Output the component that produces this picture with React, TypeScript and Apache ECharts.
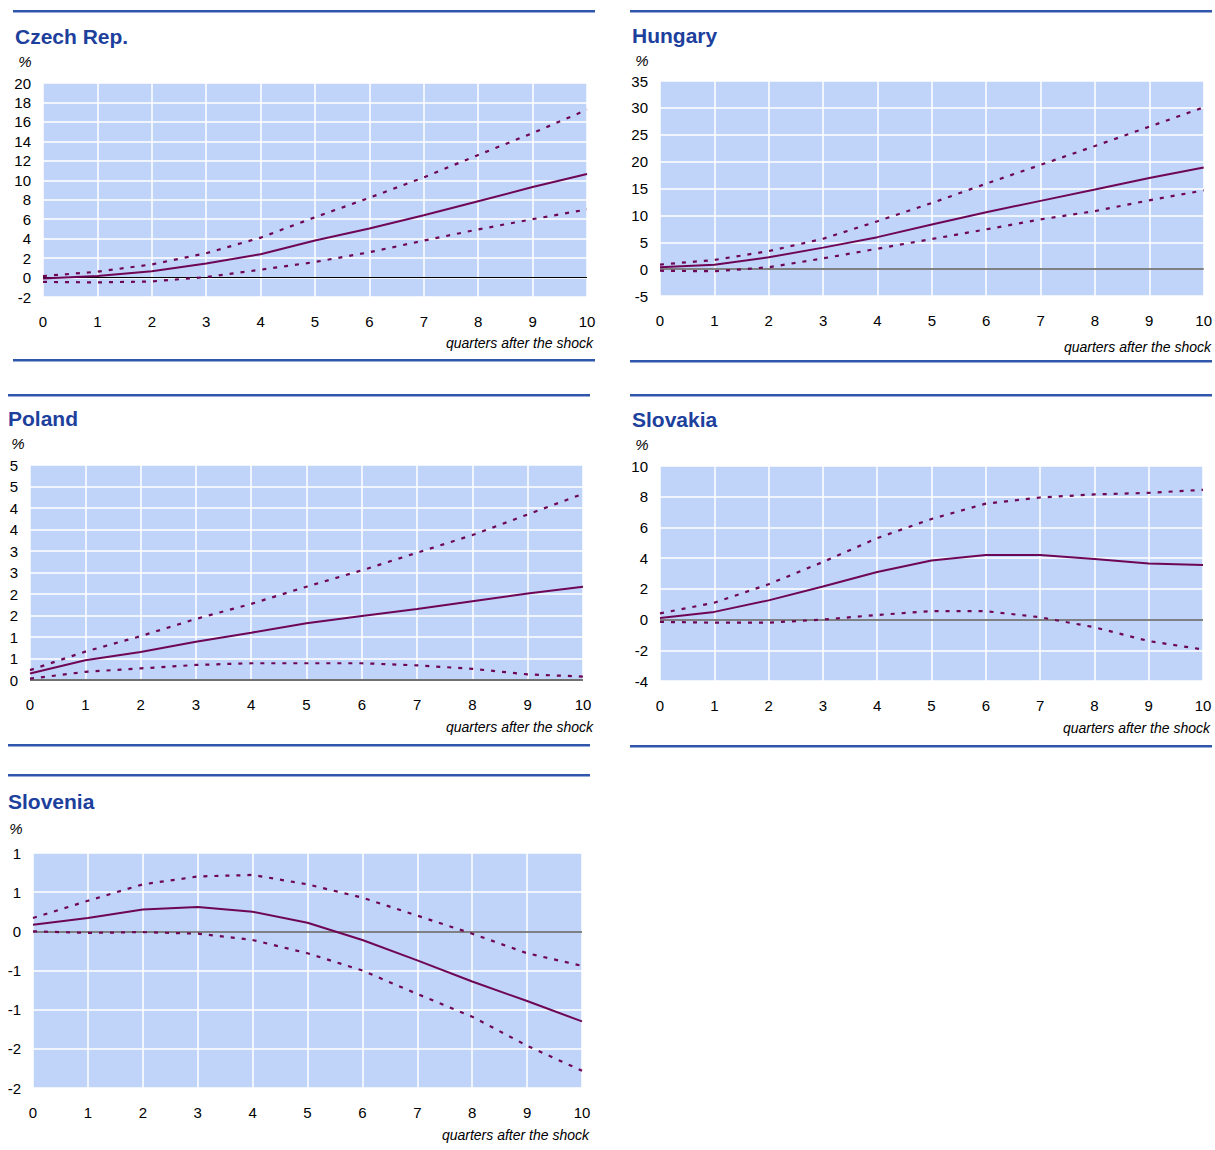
import React, { useEffect, useRef } from "react";
import * as echarts from "echarts";

const quarters = ["0", "1", "2", "3", "4", "5", "6", "7", "8", "9", "10"];

const czechCentral = [-0.1, 0.15, 0.65, 1.45, 2.4, 3.8, 5.05, 6.4, 7.85, 9.3, 10.65];
const czechUpper = [0.15, 0.6, 1.35, 2.5, 4.1, 6.2, 8.2, 10.3, 12.6, 14.85, 17.25];
const czechLower = [-0.45, -0.5, -0.4, 0.05, 0.8, 1.6, 2.6, 3.8, 4.95, 6.0, 7.0];

const hungaryCentral = [0.35, 0.8, 2.2, 4.0, 5.95, 8.3, 10.6, 12.7, 14.8, 16.95, 18.9];
const hungaryUpper = [0.85, 1.7, 3.35, 5.65, 8.9, 12.3, 15.9, 19.4, 22.9, 26.5, 30.1];
const hungaryLower = [-0.3, -0.4, 0.35, 2.0, 3.8, 5.6, 7.4, 9.25, 10.8, 12.8, 14.65];

const polandCentral = [0.15, 0.46, 0.65, 0.89, 1.1, 1.32, 1.49, 1.65, 1.83, 2.01, 2.17];
const polandUpper = [0.23, 0.66, 1.02, 1.42, 1.77, 2.17, 2.55, 2.96, 3.37, 3.85, 4.33];
const polandLower = [0.03, 0.19, 0.27, 0.35, 0.39, 0.39, 0.39, 0.34, 0.26, 0.13, 0.08];

const slovakiaCentral = [0.1, 0.5, 1.25, 2.15, 3.1, 3.85, 4.2, 4.2, 3.95, 3.65, 3.55];
const slovakiaUpper = [0.4, 1.1, 2.3, 3.75, 5.3, 6.55, 7.55, 7.95, 8.15, 8.25, 8.45];
const slovakiaLower = [-0.15, -0.2, -0.2, 0.0, 0.3, 0.55, 0.55, 0.15, -0.5, -1.4, -1.95];

const sloveniaCentral = [0.085, 0.17, 0.28, 0.31, 0.25, 0.11, -0.11, -0.37, -0.64, -0.89, -1.15];
const sloveniaUpper = [0.17, 0.39, 0.6, 0.7, 0.72, 0.6, 0.43, 0.2, -0.03, -0.28, -0.44];
const sloveniaLower = [0.0, -0.02, -0.01, -0.03, -0.11, -0.28, -0.5, -0.8, -1.09, -1.46, -1.78];

const panelTitles = ["Czech Rep.", "Hungary", "Poland", "Slovakia", "Slovenia"];
const yMin = [-2, -5, 0, -4, -2];
const yMax = [20, 35, 5, 10, 1];
const yStep = [2, 5, 0.5, 2, 0.5];

const FONT = "'Liberation Sans', Arial, sans-serif";
const LINE = "#6e0656";
const RULE = "#2f56ab";
const TITLE = "#1d409d";
const PLOT_BG = "#c0d3f8";

export default function App() {
  const ref = useRef<HTMLDivElement>(null);

  useEffect(() => {
    if (!ref.current) return;
    const chart = echarts.init(ref.current, undefined, { renderer: "svg" });

    const data = [
      [czechCentral, czechUpper, czechLower],
      [hungaryCentral, hungaryUpper, hungaryLower],
      [polandCentral, polandUpper, polandLower],
      [slovakiaCentral, slovakiaUpper, slovakiaLower],
      [sloveniaCentral, sloveniaUpper, sloveniaLower],
    ];

    const layout = [
      { left: 43, top: 83, width: 544, height: 214, ruleX: 13, ruleW: 582, ruleTop: 11, ruleBot: 360, tx: 15, ty: 36, px: 25, py: 61, qx: 593, qy: 343, zero: "#000000", zw: 1 },
      { left: 660, top: 81, width: 545, height: 215, ruleX: 630, ruleW: 582, ruleTop: 11, ruleBot: 361, tx: 632, ty: 35, px: 642, py: 60, qx: 1211, qy: 347, zero: "#5a5a5a", zw: 1.5 },
      { left: 30, top: 465, width: 553, height: 215, ruleX: 8, ruleW: 582, ruleTop: 395, ruleBot: 745, tx: 8, ty: 418, px: 18, py: 443, qx: 593, qy: 727, zero: "#707070", zw: 2 },
      { left: 660, top: 466, width: 543, height: 215, ruleX: 630, ruleW: 582, ruleTop: 395, ruleBot: 746, tx: 632, ty: 419, px: 642, py: 444, qx: 1210, qy: 728, zero: "#5a5a5a", zw: 1.5 },
      { left: 33, top: 853, width: 549, height: 235, ruleX: 8, ruleW: 582, ruleTop: 775, ruleBot: -1, tx: 8, ty: 801, px: 16, py: 828, qx: 589, qy: 1135, zero: "#5a5a5a", zw: 1.5 },
    ];

    const roundAway = (v: number) => {
      const r = Math.sign(v) * Math.round(Math.abs(v));
      return r === 0 ? "0" : String(r);
    };

    const grids: any[] = [];
    const xAxes: any[] = [];
    const yAxes: any[] = [];
    const series: any[] = [];
    const graphics: any[] = [];

    layout.forEach((L, i) => {
      grids.push({
        left: L.left,
        top: L.top,
        width: L.width,
        height: L.height,
        show: true,
        backgroundColor: PLOT_BG,
        borderWidth: 0,
        containLabel: false,
      });
      xAxes.push({
        type: "category",
        gridIndex: i,
        data: quarters,
        boundaryGap: false,
        axisLine: { show: false },
        axisTick: { show: false },
        axisLabel: { color: "#000", fontSize: 15, fontFamily: FONT, margin: 17 },
        splitLine: { show: true, lineStyle: { color: "#ffffff", width: 1.5 } },
      });
      yAxes.push({
        type: "value",
        gridIndex: i,
        min: yMin[i],
        max: yMax[i],
        interval: yStep[i],
        axisLine: { show: false },
        axisTick: { show: false },
        axisLabel: {
          color: "#000",
          fontSize: 15,
          fontFamily: FONT,
          margin: 12,
          formatter: (v: number) => roundAway(v),
        },
        splitLine: { show: true, lineStyle: { color: "#ffffff", width: 1.5 } },
      });

      const [central, upper, lower] = data[i];
      series.push({
        type: "line",
        xAxisIndex: i,
        yAxisIndex: i,
        data: central,
        symbol: "none",
        smooth: false,
        lineStyle: { color: LINE, width: 2 },
        z: 3,
        markLine: {
          silent: true,
          symbol: "none",
          label: { show: false },
          lineStyle: { color: L.zero, width: L.zw, type: "solid" },
          data: [{ yAxis: 0 }],
          z: 2,
        },
      });
      [upper, lower].forEach((band) => {
        series.push({
          type: "line",
          xAxisIndex: i,
          yAxisIndex: i,
          data: band,
          symbol: "none",
          lineStyle: { color: LINE, width: 2.2, type: [4, 7] },
          z: 3,
        });
      });

      graphics.push({
        type: "rect",
        shape: { x: L.ruleX, y: L.ruleTop - 1, width: L.ruleW, height: 2.5 },
        style: { fill: RULE },
      });
      if (L.ruleBot > 0) {
        graphics.push({
          type: "rect",
          shape: { x: L.ruleX, y: L.ruleBot - 1, width: L.ruleW, height: 2.5 },
          style: { fill: RULE },
        });
      }
      graphics.push({
        type: "text",
        x: L.tx,
        y: L.ty,
        style: {
          text: panelTitles[i],
          fill: TITLE,
          font: `bold 21px ${FONT}`,
          textAlign: "left",
          textVerticalAlign: "middle",
        },
      });
      graphics.push({
        type: "text",
        x: L.px,
        y: L.py,
        style: {
          text: "%",
          fill: "#000",
          font: `italic 15px ${FONT}`,
          textAlign: "center",
          textVerticalAlign: "middle",
        },
      });
      graphics.push({
        type: "text",
        x: L.qx,
        y: L.qy,
        style: {
          text: "quarters after the shock",
          fill: "#000",
          font: `italic 14px ${FONT}`,
          textAlign: "right",
          textVerticalAlign: "middle",
        },
      });
    });

    chart.setOption({
      animation: false,
      backgroundColor: "#ffffff",
      grid: grids,
      xAxis: xAxes,
      yAxis: yAxes,
      series,
      graphic: { elements: graphics },
    });

    return () => chart.dispose();
  }, []);

  return (
    <div
      ref={ref}
      style={{ position: "absolute", left: 0, top: 0, width: 1215, height: 1150 }}
    />
  );
}
